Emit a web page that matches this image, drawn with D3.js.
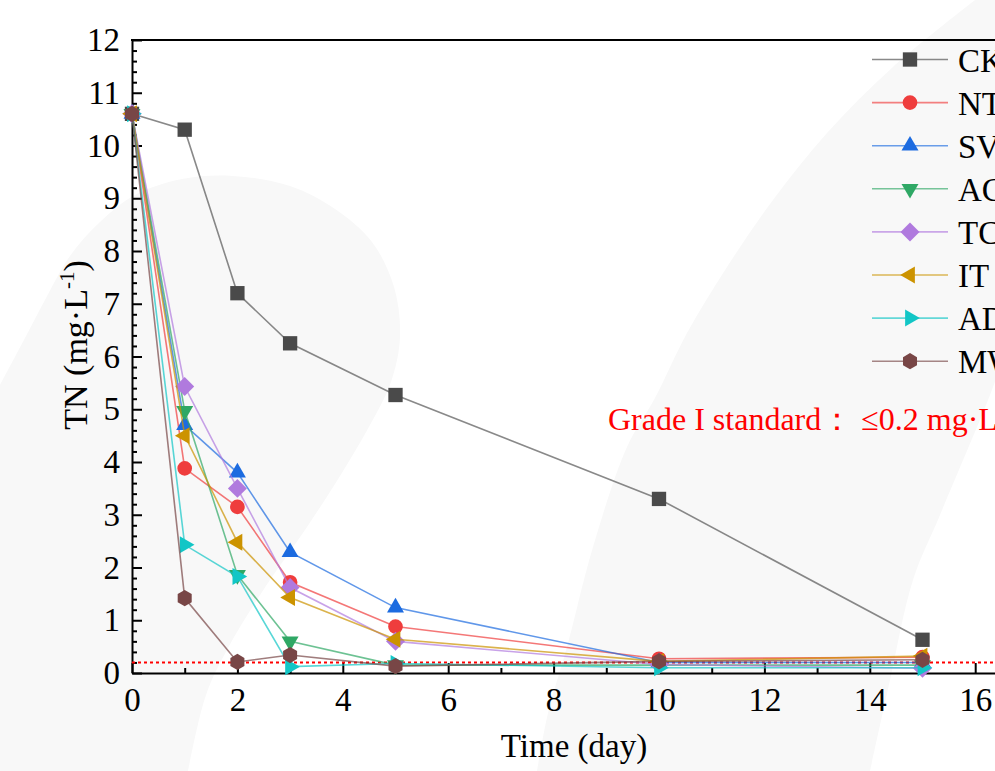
<!DOCTYPE html>
<html>
<head>
<meta charset="utf-8">
<script src="https://cdn.jsdelivr.net/npm/d3@7"></script>
<style>
  html, body { margin: 0; padding: 0; background: #fff; overflow: hidden; }
  svg { display: block; }
</style>
</head>
<body>
<svg id="chart" width="995" height="771"></svg>
<script>
// Sampling days and TN concentration (mg·L-1) for each treatment
const days = [0, 1, 2, 3, 5, 10, 15];
const seriesNames = ["CK", "NT", "SV", "AC", "TC", "IT", "AD", "MW"];
const ckValues = [10.6, 10.3, 7.2, 6.25, 5.27, 3.3, 0.63];
const ntValues = [10.6, 3.88, 3.15, 1.72, 0.88, 0.27, 0.3];
const svValues = [10.6, 4.7, 3.8, 2.29, 1.24, 0.2, 0.2];
const acValues = [10.6, 4.97, 1.86, 0.6, 0.15, 0.15, 0.15];
const tcValues = [10.6, 5.43, 3.5, 1.62, 0.6, 0.16, 0.09];
const itValues = [10.6, 4.5, 2.48, 1.43, 0.64, 0.22, 0.32];
const adValues = [10.6, 2.43, 1.83, 0.12, 0.18, 0.1, 0.1];
const mwValues = [10.6, 1.42, 0.21, 0.34, 0.13, 0.22, 0.25];

const xTickValues = [0, 2, 4, 6, 8, 10, 12, 14, 16];
const yTickValues = [0, 1, 2, 3, 4, 5, 6, 7, 8, 9, 10, 11, 12];
const gradeLimit = 0.2;
const gradeLabel = "Grade I standard：  ≤0.2 mg·L";

const markerColors = ["#4a4a4a", "#ef3d3d", "#1c6be0", "#2fa865", "#b07ade", "#cc9300", "#12c6c6", "#784646"];
const markerShapes = ["square", "circle", "triangleUp", "triangleDown", "diamond", "triangleLeft", "triangleRight", "hexagon"];

const seriesValues = [ckValues, ntValues, svValues, acValues, tcValues, itValues, adValues, mwValues];
const series = seriesNames.map((name, i) => ({
  name,
  color: markerColors[i],
  shape: markerShapes[i],
  points: days.map((d, j) => ({ day: d, tn: seriesValues[i][j] }))
}));

const svg = d3.select("#chart");
const serif = "'Liberation Serif', 'Times New Roman', serif";

// Faint decorative background swooshes
const bg = svg.append("g");
const smooth = d3.line().curve(d3.curveCatmullRom.alpha(0.5));
const blob = [[0,385],[25,338],[45,300],[70,256],[100,222],[135,195],[182,179],[233,176],[290,186],[335,209],[372,242],[394,287],[400,337],[391,382],[370,425],[340,476],[307,527],[262,592],[228,648],[206,695],[188,771]];
bg.append("path")
  .attr("d", smooth(blob) + "L0,771Z")
  .attr("fill", "#f8f8f8");
const bandLeft = [[975,0],[893,67],[827,133],[773,200],[727,267],[687,333],[655,398],[627,447],[593,547],[567,647],[548,713],[537,771]];
const bandRight = [[870,771],[890,680],[913,580],[940,515],[990,395],[1010,340]];
bg.append("path")
  .attr("d", smooth(bandLeft) + "L" + smooth(bandRight).slice(1) + "L1010,0Z")
  .attr("fill", "#f8f8f8");

// Scales
const x = d3.scaleLinear().domain([0, 17]).range([132, 132 + 17 * 52.7]);
const y = d3.scaleLinear().domain([0, 12]).range([673, 40]);

// Marker geometry
const hexagon = {
  draw(ctx, size) {
    const r = Math.sqrt(size / (1.5 * Math.sqrt(3)));
    for (let i = 0; i < 6; i++) {
      const a = -Math.PI / 2 + i * Math.PI / 3;
      if (i === 0) ctx.moveTo(r * Math.cos(a), r * Math.sin(a));
      else ctx.lineTo(r * Math.cos(a), r * Math.sin(a));
    }
    ctx.closePath();
  }
};
const squareDiamond = {
  draw(ctx, size) {
    const h = Math.sqrt(size / 2);
    ctx.moveTo(0, -h); ctx.lineTo(h, 0); ctx.lineTo(0, h); ctx.lineTo(-h, 0); ctx.closePath();
  }
};
function markerPath(shape) {
  switch (shape) {
    case "square": return { d: d3.symbol(d3.symbolSquare, 205)(), rot: 0 };
    case "circle": return { d: d3.symbol(d3.symbolCircle, 170)(), rot: 0 };
    case "triangleUp": return { d: d3.symbol(d3.symbolTriangle, 125)(), rot: 0 };
    case "triangleDown": return { d: d3.symbol(d3.symbolTriangle, 125)(), rot: 180 };
    case "diamond": return { d: d3.symbol(squareDiamond, 180)(), rot: 0 };
    case "triangleLeft": return { d: d3.symbol(d3.symbolTriangle, 125)(), rot: -90 };
    case "triangleRight": return { d: d3.symbol(d3.symbolTriangle, 125)(), rot: 90 };
    case "hexagon": return { d: d3.symbol(hexagon, 170)(), rot: 0 };
  }
}

// Axes
const yAxis = svg.append("g").attr("transform", `translate(${x(0)},0)`)
  .call(d3.axisLeft(y).tickValues(yTickValues).tickSizeInner(-10).tickSizeOuter(0).tickPadding(12).tickFormat(d3.format("d")));
const yMinor = d3.range(0, 12.001, 0.2).filter(v => Math.abs(v - Math.round(v)) > 1e-6);
svg.append("g").attr("transform", `translate(${x(0)},0)`)
  .call(d3.axisLeft(y).tickValues(yMinor).tickSizeInner(-5).tickSizeOuter(0).tickFormat(""))
  .call(g => g.select(".domain").remove());

const xAxis = svg.append("g").attr("transform", `translate(0,${y(0)})`)
  .call(d3.axisBottom(x).tickValues(xTickValues).tickSizeInner(-10).tickSizeOuter(0).tickPadding(15).tickFormat(d3.format("d")));
svg.append("g").attr("transform", `translate(0,${y(0)})`)
  .call(d3.axisBottom(x).tickValues(d3.range(1, 17, 2)).tickSizeInner(-5).tickSizeOuter(0).tickFormat(""))
  .call(g => g.select(".domain").remove());

svg.selectAll(".tick line").attr("stroke", "#000").attr("stroke-width", 2);
svg.selectAll(".domain").attr("stroke", "#000").attr("stroke-width", 2);
[xAxis, yAxis].forEach(g => g.attr("font-family", serif).attr("font-size", 33)
  .selectAll("text").attr("fill", "#000"));

// Top frame
svg.append("line")
  .attr("x1", x(0) - 1).attr("x2", x(17)).attr("y1", y(12)).attr("y2", y(12))
  .attr("stroke", "#000").attr("stroke-width", 2);

// Axis titles
svg.append("text")
  .attr("x", 574).attr("y", 757)
  .attr("text-anchor", "middle")
  .attr("font-family", serif).attr("font-size", 33)
  .text("Time (day)");
const yTitle = svg.append("text")
  .attr("transform", "translate(87,345) rotate(-90)")
  .attr("text-anchor", "middle")
  .attr("font-family", serif).attr("font-size", 34);
yTitle.append("tspan").text("TN (mg·L");
yTitle.append("tspan").attr("font-size", 21).attr("dy", -13).text("-1");
yTitle.append("tspan").attr("dy", 13).text(")");

// Grade I limit line
svg.append("line")
  .attr("x1", x(0)).attr("x2", x(17)).attr("y1", y(gradeLimit)).attr("y2", y(gradeLimit))
  .attr("stroke", "#ff0000").attr("stroke-width", 2).attr("stroke-dasharray", "3,3");

// Series lines and markers
const lineGen = d3.line().x(d => x(d.day)).y(d => y(d.tn));
series.forEach(s => {
  const g = svg.append("g");
  g.append("path")
    .attr("d", lineGen(s.points))
    .attr("fill", "none")
    .attr("stroke", s.color)
    .attr("stroke-opacity", s.name === "CK" ? 0.65 : 0.7)
    .attr("stroke-width", 1.6);
  const m = markerPath(s.shape);
  g.selectAll("path.pt").data(s.points).join("path")
    .attr("class", "pt")
    .attr("d", m.d)
    .attr("transform", d => `translate(${x(d.day)},${y(d.tn)}) rotate(${m.rot})`)
    .attr("fill", s.color);
});

// Legend
const legend = svg.append("g");
series.forEach((s, i) => {
  const cy = 59.5 + i * 43.1;
  const row = legend.append("g");
  row.append("line")
    .attr("x1", 872).attr("x2", 948).attr("y1", cy).attr("y2", cy)
    .attr("stroke", s.color).attr("stroke-opacity", 0.65).attr("stroke-width", 1.6);
  const m = markerPath(s.shape);
  row.append("path").attr("d", m.d)
    .attr("transform", `translate(910,${cy}) rotate(${m.rot})`)
    .attr("fill", s.color);
  row.append("text")
    .attr("x", 958).attr("y", cy + 12)
    .attr("font-family", serif).attr("font-size", 33)
    .text(s.name);
});

// Limit annotation
const note = svg.append("text")
  .attr("x", 608).attr("y", 430)
  .attr("fill", "#ff0000")
  .attr("font-family", serif).attr("font-size", 32);
note.append("tspan").text(gradeLabel);
note.append("tspan").attr("font-size", 20).attr("dy", -13).text("-1");
</script>
</body>
</html>
